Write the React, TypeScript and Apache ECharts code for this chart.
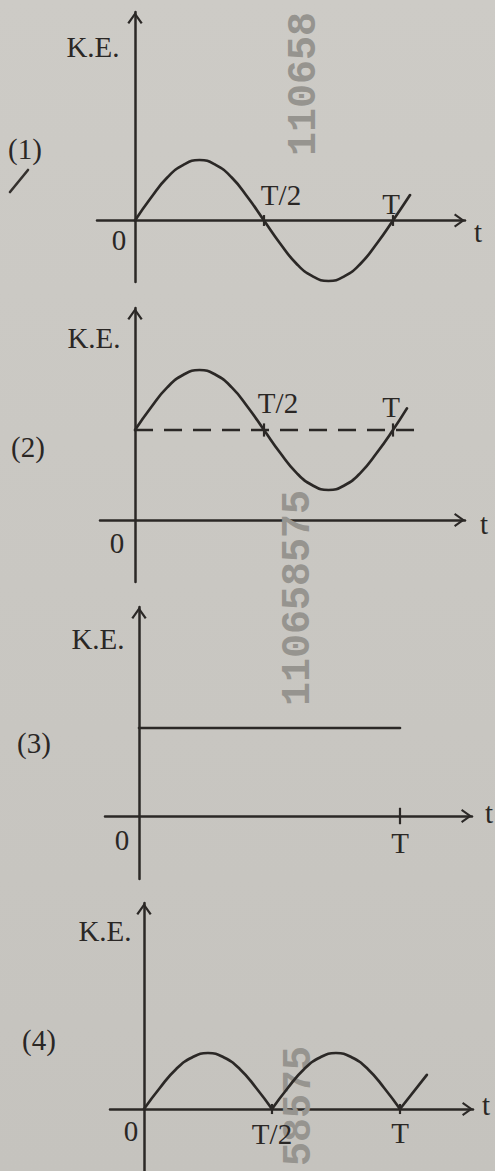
import React, { useEffect, useRef } from "react";
import * as echarts from "echarts";

// ---------- data (t in units of T, K.E. in arbitrary units) ----------
const periodT = [0, 0.0625, 0.125, 0.1875, 0.25, 0.3125, 0.375, 0.4375, 0.5, 0.5625, 0.625, 0.6875, 0.75, 0.8125, 0.875, 0.9375, 1];

// (1) K.E. swinging about zero
const keT1 = [...periodT, 1.066];
const ke1 = [0, 0.38, 0.71, 0.92, 1, 0.92, 0.71, 0.38, 0, -0.38, -0.71, -0.92, -1, -0.92, -0.71, -0.38, 0, 0.42];

// (2) K.E. swinging about a constant level
const keT2 = [...periodT, 1.054];
const ke2 = [1.5, 1.88, 2.21, 2.42, 2.5, 2.42, 2.21, 1.88, 1.5, 1.12, 0.79, 0.58, 0.5, 0.58, 0.79, 1.12, 1.5, 1.86];
const avgT2 = [0, 1.105];
const avg2 = [1.5, 1.5];

// (3) constant K.E.
const keT3 = [0, 1];
const ke3 = [1.5, 1.5];

// (4) K.E. humps, zero at T/2 and T
const humpT1 = [0, 0.0625, 0.125, 0.1875, 0.25, 0.3125, 0.375, 0.4375, 0.5];
const hump1 = [0, 0.38, 0.71, 0.92, 1, 0.92, 0.71, 0.38, 0];
const humpT2 = [0.5, 0.5625, 0.625, 0.6875, 0.75, 0.8125, 0.875, 0.9375, 1];
const hump2 = [0, 0.38, 0.71, 0.92, 1, 0.92, 0.71, 0.38, 0];
const tailT4 = [1, 1.105];
const tail4 = [0, 0.61];

// tick marks (t positions)
const ticks1 = [0.5, 1];
const ticks2 = [0.5, 1];
const ticks3 = [1];
const ticks4 = [0.5, 1];

const panelNames = ["(1)", "(2)", "(3)", "(4)"];
const yName = "K.E.";
const xName = "t";

const zip = (xs: number[], ys: number[]) => xs.map((x, i) => [x, ys[i]]);

const INK = "#2b2826";
const TEXT = "#2a2725";
const ARROW = "path://M0,0L10,14L7.6,15.7L0,5L-7.6,15.7L-10,14Z";

const panels = [
  { left: 97, top: 12, width: 368, height: 270, xMin: -0.1473, xMax: 1.2791, yMin: -1.0165, yMax: 3.4463 },
  { left: 100, top: 308, width: 365, height: 274, xMin: -0.1357, xMax: 1.2791, yMin: -1.0333, yMax: 3.5333 },
  { left: 105, top: 607, width: 367, height: 272, xMin: -0.1303, xMax: 1.2759, yMin: -1.0738, yMax: 3.5623 },
  { left: 110, top: 903, width: 363, height: 268, xMin: -0.1328, xMax: 1.2852, yMin: -1.1071, yMax: 3.6786 },
];

const labelPos: [string, number, number][] = [
  [yName, 93, 47], [panelNames[0], 25, 149], ["0", 119, 240], ["T/2", 281, 195], ["T", 391, 204], [xName, 478, 232],
  [yName, 94, 338], [panelNames[1], 28, 447], ["T/2", 278, 403], ["T", 391, 407], ["0", 117, 543], [xName, 484, 524],
  [yName, 98, 639], [panelNames[2], 34, 743], ["0", 122, 840], ["T", 400, 843], [xName, 489, 813],
  [yName, 105, 931], [panelNames[3], 39, 1040], ["0", 131, 1131], ["T/2", 272, 1134], ["T", 400, 1133], [xName, 486, 1105],
];

// rotated stamp numbers visible on the page (reading bottom to top)
const watermarks: [string, number, number][] = [
  ["110658", 304, 156],
  ["110658575", 298, 706],
  ["58575", 299, 1166],
];

export default function App() {
  const ref = useRef<HTMLDivElement>(null);

  useEffect(() => {
    document.body.style.margin = "0";
    document.body.style.background = "#c9c7c2";
    if (!ref.current) return;
    const chart = echarts.init(ref.current, null, { renderer: "svg" });

    const grid = panels.map((p) => ({
      left: p.left,
      top: p.top,
      width: p.width,
      height: p.height,
      outerBoundsMode: "none",
      containLabel: false,
    }));

    const axisLine = (w: number, h: number) => ({
      show: true,
      onZero: true,
      symbol: ["none", ARROW],
      symbolSize: [w, h],
      symbolOffset: [0, -h / 2],
      lineStyle: { color: INK, width: 2.5 },
    });

    const xAxis = panels.map((p, i) => ({
      type: "value",
      gridIndex: i,
      min: p.xMin,
      max: p.xMax,
      axisLine: axisLine(15, 11),
      axisTick: { show: false },
      axisLabel: { show: false },
      splitLine: { show: false },
    }));
    const yAxis = panels.map((p, i) => ({
      type: "value",
      gridIndex: i,
      min: p.yMin,
      max: p.yMax,
      axisLine: axisLine(16, 12),
      axisTick: { show: false },
      axisLabel: { show: false },
      splitLine: { show: false },
    }));

    const curve = (idx: number, data: number[][], smooth: number | boolean, extra: any = {}) => ({
      type: "line",
      xAxisIndex: idx,
      yAxisIndex: idx,
      data,
      smooth,
      symbol: "none",
      showSymbol: false,
      clip: false,
      silent: true,
      lineStyle: { color: INK, width: 2.7, cap: "round", join: "round", ...extra },
      z: 3,
    });

    const tickSeries = (idx: number, ts: number[], level: number, half: number) =>
      ts.map((t) => curve(idx, [[t, level - half], [t, level + half]], false, { width: 2.2, cap: "butt" }));

    const series: any[] = [
      curve(0, zip(keT1, ke1), 0.5),
      ...tickSeries(0, ticks1, 0, 0.09),
      curve(1, zip(keT2, ke2), 0.5),
      curve(1, zip(avgT2, avg2), false, { type: [18, 11], width: 2.5, cap: "butt" }),
      ...tickSeries(1, ticks2, 1.5, 0.11),
      curve(2, zip(keT3, ke3), false),
      ...tickSeries(2, ticks3, 0, 0.14),
      curve(3, zip(humpT1, hump1), 0.5),
      curve(3, zip(humpT2, hump2), 0.5),
      curve(3, zip(tailT4, tail4), false),
      ...tickSeries(3, ticks4, 0, 0.09),
    ];

    const graphic: any[] = [
      ...watermarks.map(([text, x, y]) => ({
        type: "text",
        x,
        y,
        rotation: Math.PI / 2,
        z: 1,
        silent: true,
        style: {
          text,
          font: 'bold 40px "Liberation Mono"',
          fill: "#96948f",
          align: "left",
          verticalAlign: "middle",
          textAlign: "left",
          textVerticalAlign: "middle",
        },
      })),
      ...labelPos.map(([text, x, y]) => ({
        type: "text",
        x,
        y,
        z: 10,
        silent: true,
        style: {
          text,
          font: '29px "Liberation Serif"',
          fill: TEXT,
          align: "center",
          verticalAlign: "middle",
          textAlign: "center",
          textVerticalAlign: "middle",
        },
      })),
      {
        type: "line",
        z: 10,
        silent: true,
        shape: { x1: 10, y1: 192, x2: 28, y2: 170 },
        style: { stroke: "#35312e", lineWidth: 2.6, lineCap: "round" },
      },
    ];

    chart.setOption({
      animation: false,
      backgroundColor: {
        type: "linear",
        x: 0,
        y: 0,
        x2: 0,
        y2: 1,
        colorStops: [
          { offset: 0, color: "#cdcbc6" },
          { offset: 1, color: "#c5c3be" },
        ],
      },
      grid,
      xAxis,
      yAxis,
      series,
      graphic,
    });

    return () => chart.dispose();
  }, []);

  return <div ref={ref} style={{ width: 495, height: 1171 }} />;
}
